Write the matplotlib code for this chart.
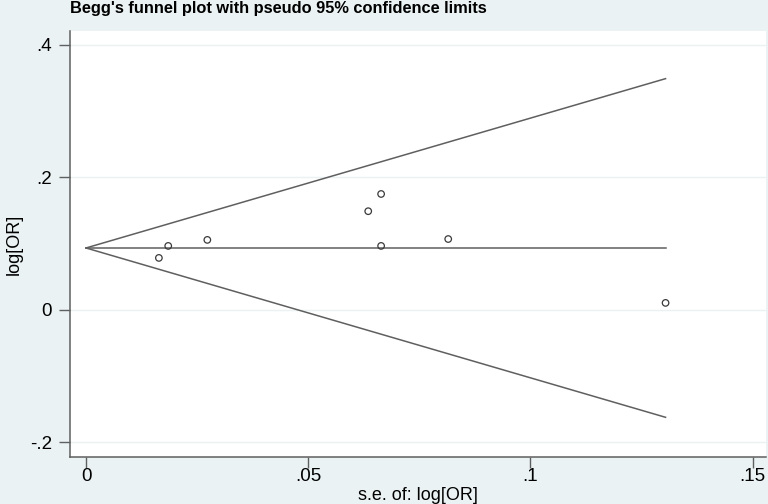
import numpy as np
import matplotlib
matplotlib.use("Agg")
import matplotlib.pyplot as plt

plt.rcParams["font.family"] = ["Liberation Sans", "DejaVu Sans"]

# study standard errors and log odds ratios
se = [0.0164, 0.0185, 0.0273, 0.0635, 0.0664, 0.0664, 0.0815, 0.1304]
log_or = [0.0785, 0.0966, 0.1057, 0.149, 0.175, 0.0966, 0.107, 0.0106]
pooled = 0.0935

x_ticks = [0, 0.05, 0.1, 0.15]
x_labels = ["0", ".05", ".1", ".15"]
y_ticks = [-0.2, 0, 0.2, 0.4]
y_labels = ["-.2", "0", ".2", ".4"]

bg = "#EAF2F3"
line_col = "#5f5f5f"

fig = plt.figure(figsize=(7.68, 5.04), dpi=100, facecolor=bg)
ax = fig.add_axes([70 / 768, 47 / 504, 696 / 768, 426 / 504])
ax.set_facecolor("white")

se_max = max(se)
se_line = np.array([0, se_max])
ax.plot(se_line, pooled + 1.96 * se_line, color=line_col, lw=1.1)
ax.plot(se_line, pooled - 1.96 * se_line, color=line_col, lw=1.1)
ax.plot(se_line, [pooled, pooled], color=line_col, lw=1.1)

ax.scatter(se, log_or, s=22, facecolors="none", edgecolors="#3a3a3a",
           linewidths=0.9, zorder=3)

ax.set_xlim(-0.0036, 0.153)
ax.set_ylim(-0.222, 0.421)
ax.set_xticks(x_ticks)
ax.set_xticklabels(x_labels)
ax.set_yticks(y_ticks)
ax.set_yticklabels(y_labels)
ax.yaxis.grid(True, color=bg, lw=1)
ax.set_axisbelow(True)

for side in ["top", "right"]:
    ax.spines[side].set_visible(False)
for side in ["left", "bottom"]:
    ax.spines[side].set_color(line_col)
    ax.spines[side].set_linewidth(1.1)
ax.tick_params(direction="out", length=8, width=1, color=line_col,
               labelsize=13.5)
ax.tick_params(axis="x", pad=0)
ax.tick_params(axis="y", pad=5)

ax.set_xlabel("s.e. of: log[OR]", fontsize=13, labelpad=1)
ax.set_ylabel("log[OR]", fontsize=13, labelpad=5)
fig.text(70 / 768, 1 - 1 / 504, "Begg's funnel plot with pseudo 95% confidence limits",
         fontsize=11.8, fontweight="bold", ha="left", va="top")

fig.savefig("out.png", dpi=100, facecolor=bg)
